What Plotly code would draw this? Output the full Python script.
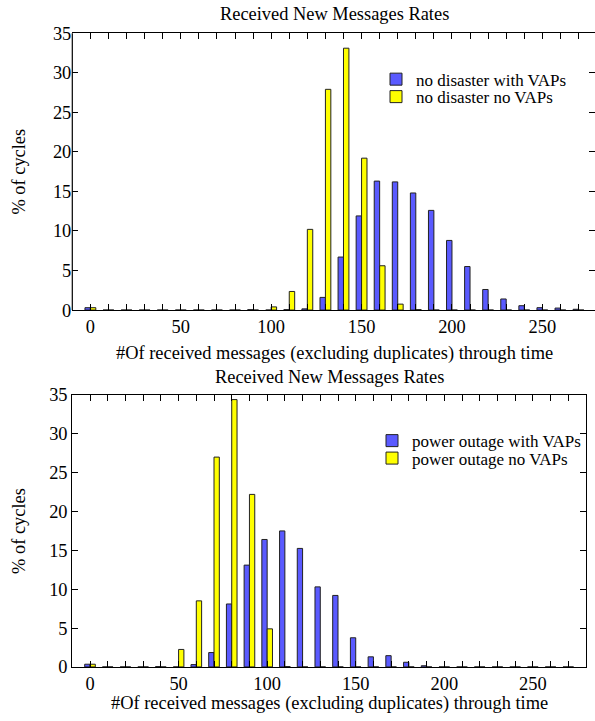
import plotly.graph_objects as go

bins = list(range(0, 280, 10))

top_with_vaps = [0.3, 0, 0, 0, 0, 0, 0, 0, 0, 0.05, 0, 0.05, 0.15, 1.6, 6.7, 11.9,
                 16.3, 16.2, 14.8, 12.6, 8.8, 5.5, 2.6, 1.4, 0.55, 0.3, 0.25, 0.1]
top_no_vaps = [0.3, 0, 0, 0, 0, 0, 0, 0, 0, 0, 0.4, 2.35, 10.2, 27.9, 33.1, 19.2,
               5.6, 0.75, 0.05, 0, 0, 0, 0, 0, 0, 0, 0, 0]
bot_with_vaps = [0.35, 0, 0, 0, 0.05, 0, 0.3, 1.85, 8.1, 13.1, 16.4, 17.5, 15.25, 10.3,
                 9.2, 3.75, 1.3, 1.45, 0.6, 0.15, 0, 0, 0, 0, 0, 0, 0, 0]
bot_no_vaps = [0.35, 0, 0, 0, 0, 2.25, 8.5, 27.0, 34.4, 22.2, 4.9, 0.05, 0, 0, 0, 0,
               0, 0, 0, 0, 0, 0, 0, 0, 0, 0, 0, 0]

top_names = ["no disaster with VAPs", "no disaster no VAPs"]
bot_names = ["power outage with VAPs", "power outage no VAPs"]
title_text = "Received New Messages Rates"
xlabel_text = "#Of received messages (excluding duplicates) through time"
ylabel_text = "% of cycles"

xtick_vals = list(range(0, 290, 10))
xtick_text = [str(v) if v % 50 == 0 else "" for v in xtick_vals]
ytick_vals = [0, 5, 10, 15, 20, 25, 30, 35]

BLUE = "#5a5aff"
YELLOW = "#ffff00"
EDGE = "#222222"
FONT = "Liberation Serif"
W, H = 595, 721
FS = 18.4
LFS = 17

# vertical compensation for the capture (measured on earlier renders)
SY, OY = 0.9737, 8.8

def px(x):
    return x / W

def py(y):
    return 1 - ((y - OY) / SY) / H

fig = go.Figure()
series = [
    (top_with_vaps, top_names[0], BLUE, "x", "y", "legend"),
    (top_no_vaps, top_names[1], YELLOW, "x", "y", "legend2"),
    (bot_with_vaps, bot_names[0], BLUE, "x2", "y2", "legend3"),
    (bot_no_vaps, bot_names[1], YELLOW, "x2", "y2", "legend4"),
]
for vals, name, color, xa, ya, lg in series:
    fig.add_trace(go.Bar(x=bins, y=vals, name=name, showlegend=True,
                         marker=dict(color=color, line=dict(color=EDGE, width=1)),
                         xaxis=xa, yaxis=ya, legend=lg))

tickfont = dict(family=FONT, size=FS, color="black")
common_x = dict(tickmode="array", tickvals=xtick_vals, ticktext=xtick_text, ticks="inside", ticklen=6,
                tickwidth=1, tickcolor="black", showline=True, linecolor="black", linewidth=1.2,
                mirror="ticks", showgrid=False, zeroline=False, tickfont=tickfont)
common_y = dict(tickmode="array", tickvals=ytick_vals, ticks="inside", ticklen=6, tickwidth=1,
                tickcolor="black", showgrid=False, zeroline=False, tickfont=tickfont, range=[0, 35])

top_x0, top_x1_full = 72.3, 596.6
top_y0, top_y1 = 32.0, 309.3
bot_x0, bot_x1 = 72.3, 586.0
bot_y0, bot_y1 = 394.3, 666.7

top_x1 = 595.0
top_right = -10 + 290 * (top_x1 - top_x0) / (top_x1_full - top_x0)

def leg(x, y):
    return dict(x=px(x), y=py(y), xanchor="left", yanchor="middle", bgcolor="rgba(0,0,0,0)",
                font=dict(family=FONT, size=LFS), itemwidth=30, borderwidth=0,
                tracegroupgap=0, visible=True)

fig.update_layout(
    width=W, height=H, margin=dict(l=0, r=0, t=0, b=0),
    paper_bgcolor="white", plot_bgcolor="white", showlegend=True,
    barmode="group", bargap=0.4, bargroupgap=0,
    font=dict(family=FONT, size=FS, color="black"),
    xaxis=dict(domain=[px(top_x0), px(top_x1)], anchor="y", range=[-10, top_right], **common_x),
    yaxis=dict(domain=[py(top_y1), py(top_y0)], anchor="x", showline=False, mirror="ticks", **common_y),
    xaxis2=dict(domain=[px(bot_x0), px(bot_x1)], anchor="y2", range=[-10, 280], **common_x),
    yaxis2=dict(domain=[py(bot_y1), py(bot_y0)], anchor="x2", showline=True, linecolor="black",
                linewidth=1.2, mirror="ticks", **common_y),
    legend=leg(376, 78.5),
    legend2=leg(376, 96),
    legend3=leg(372, 440.5),
    legend4=leg(372, 458),
)

fig.add_shape(type="line", xref="x domain", yref="y domain", x0=0, x1=0, y0=0, y1=1,
              line=dict(color="black", width=1.2))

ann_font = dict(family=FONT, size=FS, color="black")
fig.add_annotation(text=title_text, x=px((top_x0 + top_x1_full) / 2), y=py(12.5), xref="paper", yref="paper",
                   showarrow=False, font=ann_font, xanchor="center", yanchor="middle")
fig.add_annotation(text=xlabel_text, x=px((top_x0 + top_x1_full) / 2), y=py(353), xref="paper", yref="paper",
                   showarrow=False, font=ann_font, xanchor="center", yanchor="middle")
fig.add_annotation(text=title_text, x=px((bot_x0 + bot_x1) / 2), y=py(376), xref="paper", yref="paper",
                   showarrow=False, font=ann_font, xanchor="center", yanchor="middle")
fig.add_annotation(text=xlabel_text, x=px((bot_x0 + bot_x1) / 2), y=py(703), xref="paper", yref="paper",
                   showarrow=False, font=ann_font, xanchor="center", yanchor="middle")
fig.add_annotation(text=ylabel_text, x=px(19), y=py((top_y0 + top_y1) / 2), xref="paper", yref="paper",
                   showarrow=False, font=ann_font, textangle=-90, xanchor="center", yanchor="middle")
fig.add_annotation(text=ylabel_text, x=px(19), y=py((bot_y0 + bot_y1) / 2), xref="paper", yref="paper",
                   showarrow=False, font=ann_font, textangle=-90, xanchor="center", yanchor="middle")

fig.write_html("out.html", config={"displayModeBar": False},
               post_script="document.body.style.margin='0px';document.body.style.overflow='hidden';"
                           "document.documentElement.style.overflow='hidden';")
